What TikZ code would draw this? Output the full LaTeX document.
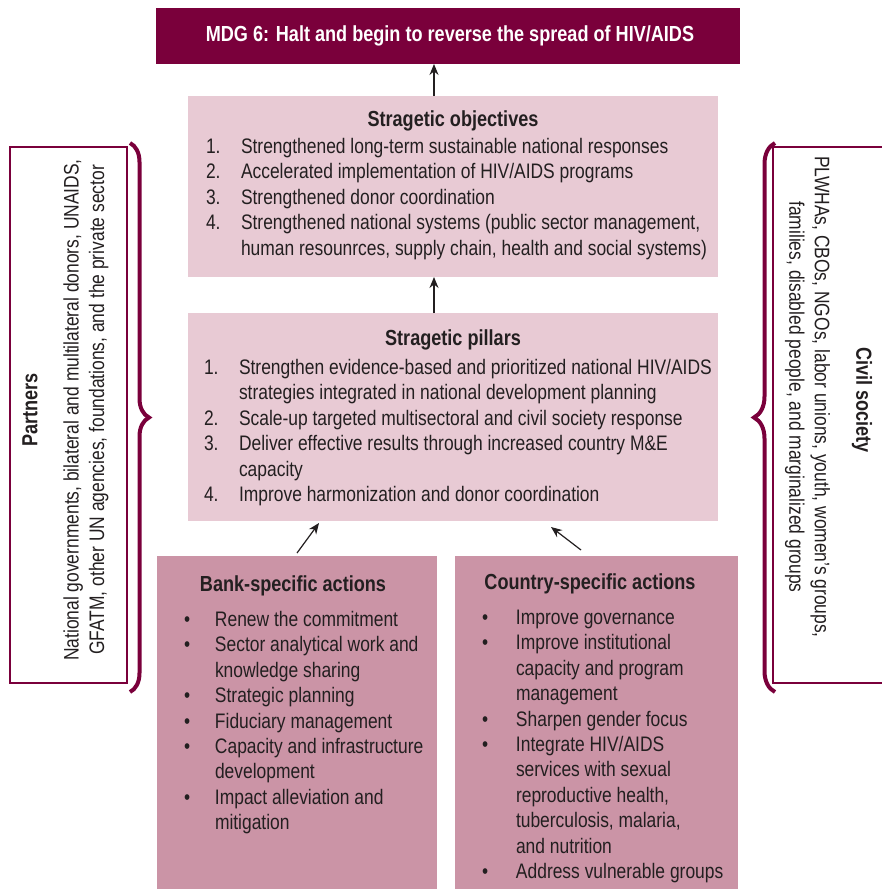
\documentclass[tikz,border=0pt]{standalone}
\usepackage{fontspec}
\setmainfont{Liberation Sans}[FakeStretch=0.83]
\usetikzlibrary{arrows.meta,decorations.pathreplacing}
\definecolor{maroon}{HTML}{7A003B}
\definecolor{lightpink}{HTML}{E8CAD4}
\definecolor{midpink}{HTML}{CB94A6}
\definecolor{ink}{HTML}{231F20}
\newcommand{\bodyfont}{\fontsize{21}{25.4}\selectfont}
\newcommand{\headfont}{\fontsize{21.8}{25}\selectfont\bfseries}
\begin{document}
\begin{tikzpicture}[x=1pt,y=-1pt,
  panel/.style={inner sep=0pt, outer sep=0pt},
  txt/.style={inner sep=0pt, outer sep=0pt, text=ink, anchor=base west},
  ttl/.style={inner sep=0pt, outer sep=0pt, text=ink, anchor=base},
  arr/.style={draw=ink, line width=1.2pt, -{Stealth[length=11pt,width=9pt]}},
  side/.style={draw=maroon, line width=2pt, inner sep=0pt, outer sep=0pt},
  brc/.style={draw=maroon, line width=4pt, decorate}]
\useasboundingbox (0,0) rectangle (882,889);

% top banner
\node[panel, fill=maroon, minimum width=584pt, minimum height=56pt] (mdg) at (448,36) {};
\node[ttl, text=white] (mdgt) at (450,41) {\headfont MDG 6: Halt and begin to reverse the spread of HIV/AIDS};

% objectives
\node[panel, fill=lightpink, minimum width=530pt, minimum height=181pt] (obj) at (453,186.5) {};
\node[ttl] (objt) at (453,126) {\headfont Stragetic objectives};
\node[txt] (objl) at (206,153.5) {\bodyfont\begin{tabular}[t]{@{}p{35pt}@{}l@{}}
1.& Strengthened long-term sustainable national responses\\
2.& Accelerated implementation of HIV/AIDS programs\\
3.& Strengthened donor coordination\\
4.& Strengthened national systems (public sector management,\\
  & human resounrces, supply chain, health and social systems)
\end{tabular}};

% pillars
\node[panel, fill=lightpink, minimum width=530pt, minimum height=208pt] (pil) at (453,417) {};
\node[ttl] (pilt) at (453,345) {\headfont Stragetic pillars};
\node[txt] (pill) at (204,374.5) {\bodyfont\begin{tabular}[t]{@{}p{35pt}@{}l@{}}
1.& Strengthen evidence-based and prioritized national HIV/AIDS\\
  & strategies integrated in national development planning\\
2.& Scale-up targeted multisectoral and civil society response\\
3.& Deliver effective results through increased country M\&E\\
  & capacity\\
4.& Improve harmonization and donor coordination
\end{tabular}};

% bank
\node[panel, fill=midpink, minimum width=280pt, minimum height=335pt] (bank) at (297,723.5) {};
\node[ttl] (bankt) at (293,591) {\headfont Bank-specific actions};
\node[txt] (bankl) at (184,626.5) {\bodyfont\begin{tabular}[t]{@{}p{31pt}@{}l@{}}
\textbullet& Renew the commitment\\
\textbullet& Sector analytical work and\\
 & knowledge sharing\\
\textbullet& Strategic planning\\
\textbullet& Fiduciary management\\
\textbullet& Capacity and infrastructure\\
 & development\\
\textbullet& Impact alleviation and\\
 & mitigation
\end{tabular}};

% country
\node[panel, fill=midpink, minimum width=283pt, minimum height=335pt] (ctry) at (596.5,723.5) {};
\node[ttl] (ctryt) at (590,589) {\headfont Country-specific actions};
\node[txt] (ctryl) at (482,624.5) {\bodyfont\begin{tabular}[t]{@{}p{34pt}@{}l@{}}
\textbullet& Improve governance\\
\textbullet& Improve institutional\\
 & capacity and program\\
 & management\\
\textbullet& Sharpen gender focus\\
\textbullet& Integrate HIV/AIDS\\
 & services with sexual\\
 & reproductive health,\\
 & tuberculosis, malaria,\\
 & and nutrition\\
\textbullet& Address vulnerable groups
\end{tabular}};

% partners
\node[side, minimum width=117pt, minimum height=536pt] (part) at (68.5,415) {};
\node[inner sep=0pt, text=ink, rotate=90, font=\headfont] (partt) at (30,410) {Partners};
\node[inner sep=0pt, text=ink, rotate=90, align=center, font=\bodyfont] (partl) at (86,410) {National governments, bilateral and multilateral donors, UNAIDS,\\ GFATM, other UN agencies, foundations, and the private sector};
\coordinate (pb1) at (130,143);
\coordinate (pb2) at (130,692);
\draw[brc, decoration={brace, amplitude=19pt}] (pb1) -- (pb2);

% civil society
\draw[side] (773,147) -- (886,147) (773,147) -- (773,683) -- (886,683);
\node[inner sep=0pt, text=ink, rotate=-90, font=\headfont] (civt) at (862,400) {Civil society};
\node[inner sep=0pt, text=ink, rotate=-90, align=center, font=\bodyfont] (civl) at (807.5,397) {PLWHAs, CBOs, NGOs, labor unions, youth, women's groups,\\ families, disabled people, and marginalized groups};
\coordinate (cb1) at (775,692);
\coordinate (cb2) at (775,143);
\draw[brc, decoration={brace, amplitude=21pt}] (cb1) -- (cb2);

% arrows
\coordinate (ax) at (434,0);
\draw[arr] (ax |- obj.north) -- (ax |- mdg.south);
\draw[arr] (ax |- pil.north) -- (ax |- obj.south);
\draw[arr] ([yshift=3pt]bank.north) -- ([xshift=-134pt,yshift=-2pt]pil.south);
\draw[arr] ([xshift=-15.5pt,yshift=6pt]ctry.north) -- ([xshift=98pt,yshift=-6pt]pil.south);
\end{tikzpicture}
\end{document}
